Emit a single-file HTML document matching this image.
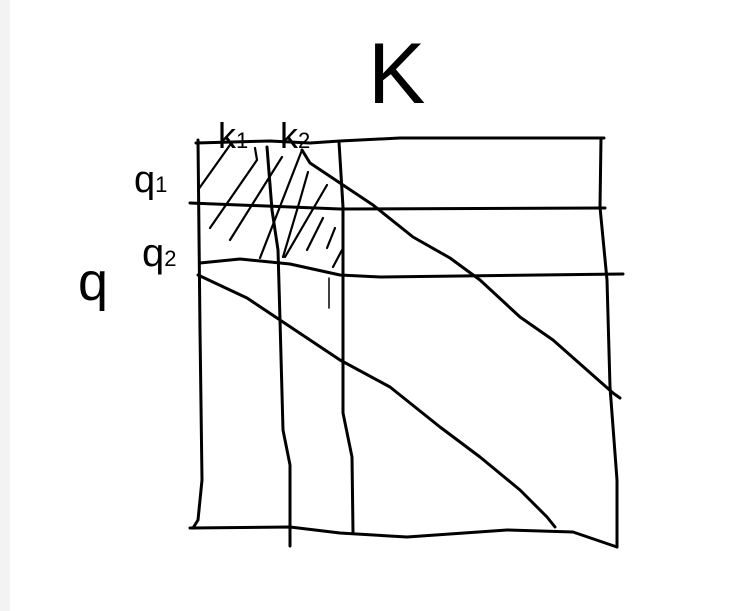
<!DOCTYPE html>
<html><head><meta charset="utf-8"><style>
html,body{margin:0;padding:0;background:#fff;width:746px;height:611px;overflow:hidden}
svg{position:absolute;left:0;top:0}
text{font-family:"Liberation Sans",sans-serif;fill:#000;font-weight:300}
</style></head><body>
<svg width="746" height="611">
<rect x="0" y="0" width="10" height="611" fill="#f3f3f3"/>
<g fill="none" stroke="#000" stroke-width="3" stroke-linecap="round" stroke-linejoin="round">
<path d="M196 143 L270 141 L310 143 L340 141 L400 138 L604 138"/>
<path d="M198 140 L200 330 L202 480 L198 520 L193 528"/>
<path d="M601 138 L600 207 L607 280 L610 387 L617 480 L617 547"/>
<path d="M190 528 L290 527 L340 533 L407 537 L507 530 L573 532 L617 547"/>
<path d="M190 203 L340 209 L605 208"/>
<path d="M200 263 L240 259 L290 264 L340 275 L380 277 L623 274"/>
<path d="M267 147 L272 210 L278 250 L280 320 L283 430 L290 465 L290 546"/>
<path d="M339 142 L343 207 L343 413 L352 457 L353 532"/>
<path d="M302 150 L310 163 L340 183 L373 205 L413 237 L450 258 L480 280 L520 317 L553 340 L613 393 L620 398"/>
<path d="M198 275 L247 298 L280 320 L340 360 L390 387 L440 427 L480 457 L520 490 L547 517 L555 527"/>
<g stroke-width="2.2">
<path d="M230 145 L198 190"/>
<path d="M255 148 L257 160 L210 228"/>
<path d="M282 157 L230 240"/>
<path d="M302 150 L260 258"/>
<path d="M308 172 L300 200 L283 257"/>
<path d="M327 185 L285 257"/>
<path d="M323 218 L307 250"/>
<path d="M335 228 L327 248"/>
<path d="M342 250 L333 267"/>
</g>
<path stroke-width="1.5" d="M329 278 L329 308"/>
</g>
<text x="368" y="103" font-size="86">K</text>
<text x="218" y="148" font-size="36">k<tspan font-size="22">1</tspan></text>
<text x="280" y="148" font-size="36">k<tspan font-size="22">2</tspan></text>
<text x="134" y="192" font-size="38">q<tspan font-size="22">1</tspan></text>
<text x="142" y="266" font-size="40">q<tspan font-size="22">2</tspan></text>
<text x="78" y="300" font-size="54">q</text>
</svg>
</body></html>
